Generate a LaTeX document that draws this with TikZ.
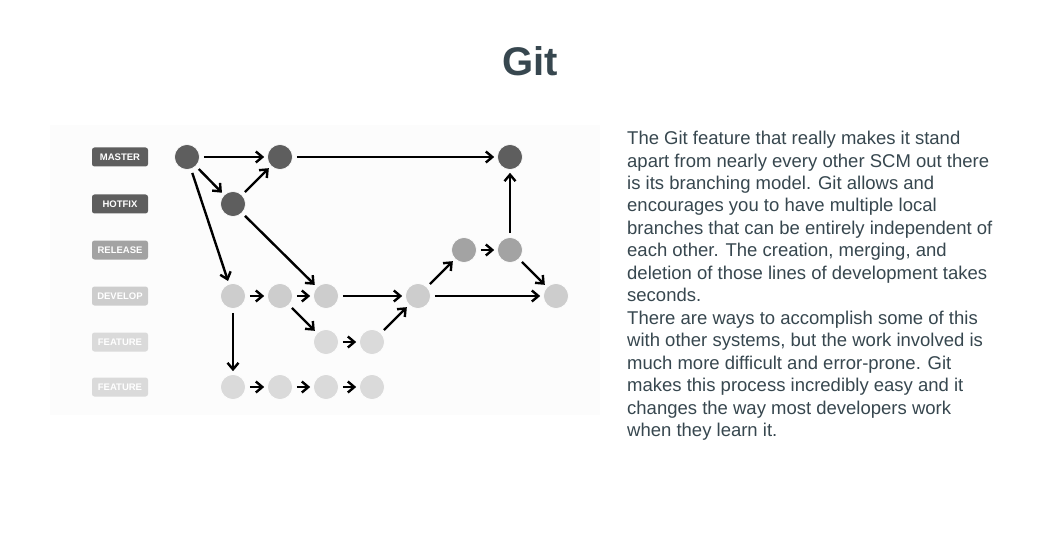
\documentclass[tikz,border=0pt]{standalone}
\usepackage{fontspec}
\setmainfont{Liberation Sans}
\usetikzlibrary{arrows.meta}
\definecolor{txt}{HTML}{37474F}
\definecolor{cmaster}{HTML}{5E5E5E}
\definecolor{crelease}{HTML}{A3A3A3}
\definecolor{cdevelop}{HTML}{CDCDCD}
\definecolor{cfeature}{HTML}{DADADA}
\definecolor{bg}{HTML}{FCFCFC}
\begin{document}
\begin{tikzpicture}[x=1pt,y=-1pt,
  lbl/.style={rounded corners=2.5pt,minimum width=56pt,minimum height=19pt,inner sep=0pt,text=white,font=\fontsize{9.5}{10}\selectfont\bfseries},
  commit/.style={circle,minimum size=25pt,inner sep=0pt,draw=white,line width=0.6pt},
  mastercommit/.style={commit,fill=cmaster},
  releasecommit/.style={commit,fill=crelease},
  developcommit/.style={commit,fill=cdevelop},
  featurecommit/.style={commit,fill=cfeature},
  arr/.style={-{Straight Barb[length=6.5pt,width=11pt,line width=2.4pt]},line width=2.4pt,shorten >=3pt,shorten <=4pt,black}]
\useasboundingbox (0,0) rectangle (1060,540);
\fill[white] (0,0) rectangle (1060,540);
\fill[bg] (50,125) rectangle (600,415);
\node[font=\fontsize{40}{40}\selectfont\bfseries,text=txt] (title) at (530,61) {Git};
% labels
\node[lbl,fill=cmaster] (lmaster) at (120,157) {MASTER};
\node[lbl,fill=cmaster] (lhotfix) at (120,204) {HOTFIX};
\node[lbl,fill=crelease] (lrelease) at (120,250) {RELEASE};
\node[lbl,fill=cdevelop] (ldevelop) at (120,296) {DEVELOP};
\node[lbl,fill=cfeature] (lfeat1) at (120,342) {FEATURE};
\node[lbl,fill=cfeature] (lfeat2) at (120,387) {FEATURE};
% commits
\node[mastercommit] (m1) at (187,157) {};
\node[mastercommit] (m2) at (280,157) {};
\node[mastercommit] (m3) at (510,157) {};
\node[mastercommit] (h1) at (233,204) {};
\node[releasecommit] (r1) at (464,250) {};
\node[releasecommit] (r2) at (510,250) {};
\node[developcommit] (d1) at (233,296) {};
\node[developcommit] (d2) at (280,296) {};
\node[developcommit] (d3) at (326,296) {};
\node[developcommit] (d4) at (418,296) {};
\node[developcommit] (d5) at (556,296) {};
\node[featurecommit] (f1) at (326,342) {};
\node[featurecommit] (f2) at (372,342) {};
\node[featurecommit] (g1) at (233,387) {};
\node[featurecommit] (g2) at (280,387) {};
\node[featurecommit] (g3) at (326,387) {};
\node[featurecommit] (g4) at (372,387) {};
% edges
\draw[arr] (m1) -- (m2);
\draw[arr] (m1) -- (h1);
\draw[arr] (h1) -- (m2);
\draw[arr] (m2) -- (m3);
\draw[arr] (m1) -- (d1);
\draw[arr] (h1) -- (d3);
\draw[arr] (d1) -- (d2);
\draw[arr] (d2) -- (d3);
\draw[arr] (d3) -- (d4);
\draw[arr] (d2) -- (f1);
\draw[arr] (f1) -- (f2);
\draw[arr] (f2) -- (d4);
\draw[arr] (d4) -- (r1);
\draw[arr] (r1) -- (r2);
\draw[arr] (r2) -- (m3);
\draw[arr] (r2) -- (d5);
\draw[arr] (d4) -- (d5);
\draw[arr] (d1) -- (g1);
\draw[arr] (g1) -- (g2);
\draw[arr] (g2) -- (g3);
\draw[arr] (g3) -- (g4);
% text
\node[anchor=north west,align=left,inner sep=0pt,text=txt,font=\fontsize{18.5}{22.45}\selectfont] (body) at (627,131) {The Git feature that really makes it stand\\apart from nearly every other SCM out there\\is its branching model. Git allows and\\encourages you to have multiple local\\branches that can be entirely independent of\\each other. The creation, merging, and\\deletion of those lines of development takes\\seconds.\\There are ways to accomplish some of this\\with other systems, but the work involved is\\much more difficult and error-prone. Git\\makes this process incredibly easy and it\\changes the way most developers work\\when they learn it.};
\end{tikzpicture}
\end{document}
